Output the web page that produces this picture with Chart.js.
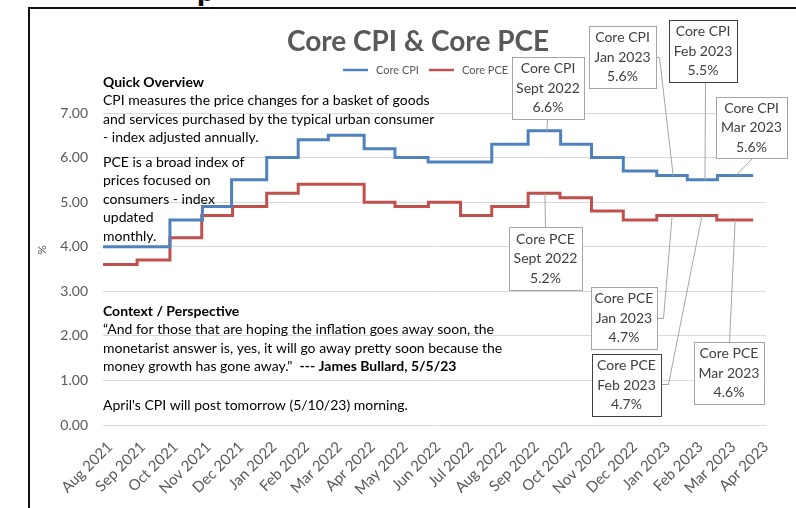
<!DOCTYPE html>
<html lang="en">
<head>
    <meta charset="UTF-8">
    <title>Core CPI & Core PCE</title>
    <script src="https://cdn.jsdelivr.net/npm/chart.js"></script>
    <style>
        html, body { margin: 0; padding: 0; background: #fff; }
        #wrap { position: relative; width: 796px; height: 508px; overflow: hidden; }
        #frame { position: absolute; left: 28px; top: 7px; width: 800px; height: 600px; border: 2px solid #111; box-sizing: border-box; }
        #head { position: absolute; left: 197px; top: -27px; font: 900 32px Lato, sans-serif; line-height: 32px; color: #111; }
        #chart { position: absolute; left: 0; top: 0; }
    </style>
</head>
<body>
<div id="wrap">
    <div id="head">p</div>
    <div id="frame"></div>
    <canvas id="chart" width="796" height="508"></canvas>
</div>
<script>
    const FONT = 'Lato, "Open Sans", sans-serif';

    // x axis: one unit per month, 0 = Aug 2021
    const months = ['Aug 2021', 'Sep 2021', 'Oct 2021', 'Nov 2021', 'Dec 2021', 'Jan 2022', 'Feb 2022',
        'Mar 2022', 'Apr 2022', 'May 2022', 'Jun 2022', 'Jul 2022', 'Aug 2022', 'Sep 2022', 'Oct 2022',
        'Nov 2022', 'Dec 2022', 'Jan 2023', 'Feb 2023', 'Mar 2023', 'Apr 2023'];
    const yTicks = [0, 1, 2, 3, 4, 5, 6, 7];

    // where each level starts (in months) and the level itself
    const cpiStepAt = [-0.12, 1.92, 2.91, 3.80, 4.87, 5.83, 6.75, 7.84, 8.78, 9.79, 11.73, 12.84, 13.83, 14.77, 15.74, 16.76, 17.69, 18.61, 19.70];
    const cpiValues = [4.0, 4.6, 4.9, 5.5, 6.0, 6.4, 6.5, 6.2, 6.0, 5.9, 6.3, 6.6, 6.3, 6.0, 5.7, 5.6, 5.5, 5.6, 5.6];
    const pceStepAt = [-0.12, 0.92, 1.92, 2.89, 3.83, 4.87, 5.83, 7.84, 8.78, 9.80, 10.78, 11.73, 12.84, 13.81, 14.77, 15.74, 16.76, 18.59, 19.70];
    const pceValues = [3.6, 3.7, 4.2, 4.7, 4.9, 5.2, 5.4, 5.0, 4.9, 5.0, 4.7, 4.9, 5.2, 5.1, 4.8, 4.6, 4.7, 4.6, 4.6];

    const chartTitle = 'Core CPI & Core PCE';
    const overview = [
        [['Quick Overview', true]],
        [['CPI measures the price changes for a basket of goods']],
        [['and services purchased by the typical urban consumer']],
        [['- index adjusted annually.']]
    ];
    const pceNote = [
        [['PCE is a broad index of']],
        [['prices focused on']],
        [['consumers - index']],
        [['updated']],
        [['monthly.']]
    ];
    const context = [
        [['Context / Perspective', true]],
        [['\u201CAnd for those that are hoping the inflation goes away soon, the']],
        [['monetarist answer is, yes, it will go away pretty soon because the']],
        [['money growth has gone away."  '], ['--- James Bullard, 5/5/23', true]]
    ];
    const footNote = [[["April's CPI will post tomorrow (5/10/23) morning."]]];

    const series = [
        { label: 'Core CPI', stepAt: cpiStepAt, values: cpiValues, color: '#4F81BD' },
        { label: 'Core PCE', stepAt: pceStepAt, values: pceValues, color: '#C0504D' }
    ];

    // callout boxes: series, month position they point at, box rect and where the leader leaves the box
    const callouts = [
        { s: 0, at: 13.41, month: 'Sept 2022', box: [512, 57, 72, 62], from: [547, 119] },
        { s: 0, at: 17.26, month: 'Jan 2023', box: [589, 26, 67, 62], from: [656, 57], via: [659, 57] },
        { s: 0, at: 18.23, month: 'Feb 2023', box: [669, 20, 68, 62], from: [705, 82], dark: true },
        { s: 0, at: 19.18, month: 'Mar 2023', box: [716, 97, 71, 61], from: [752, 158] },
        { s: 1, at: 13.35, month: 'Sept 2022', box: [509, 227, 73, 63], from: [545, 227] },
        { s: 1, at: 17.23, month: 'Jan 2023', box: [591, 287, 66, 62], from: [657, 318], via: [663, 318] },
        { s: 1, at: 18.14, month: 'Feb 2023', box: [592, 354, 69, 62], from: [661, 384], via: [668, 384], dark: true },
        { s: 1, at: 19.15, month: 'Mar 2023', box: [694, 342, 70, 62], from: [729, 342] }
    ];

    function valueAt(s, x) {
        let v = s.values[0];
        s.stepAt.forEach((at, i) => { if (at <= x) v = s.values[i]; });
        return v;
    }

    function drawLines(ctx, lines, x, y, gap) {
        lines.forEach((runs, i) => {
            let cx = x;
            runs.forEach(([text, bold]) => {
                ctx.font = (bold ? 'bold ' : '') + '14px ' + FONT;
                ctx.fillText(text, cx, y + i * gap);
                cx += ctx.measureText(text).width;
            });
        });
    }

    const annotations = {
        id: 'annotations',
        beforeDatasetsDraw(chart) {
            const ctx = chart.ctx;
            ctx.save();
            ctx.textBaseline = 'middle';

            // title
            ctx.fillStyle = '#595959';
            ctx.textAlign = 'center';
            ctx.font = 'bold 28px ' + FONT;
            ctx.fillText(chartTitle, 418, 42);

            // legend
            ctx.textAlign = 'left';
            ctx.font = '11px ' + FONT;
            let lx = 343;
            chart.data.datasets.forEach(ds => {
                ctx.strokeStyle = ds.borderColor;
                ctx.lineWidth = 2.5;
                ctx.beginPath();
                ctx.moveTo(lx, 70);
                ctx.lineTo(lx + 25, 70);
                ctx.stroke();
                ctx.fillStyle = '#595959';
                ctx.fillText(ds.label, lx + 33, 70);
                lx += 33 + ctx.measureText(ds.label).width + 10;
            });

            // y axis title
            ctx.save();
            ctx.translate(42, 250);
            ctx.rotate(-Math.PI / 2);
            ctx.textAlign = 'center';
            ctx.font = '12px ' + FONT;
            ctx.fillText('%', 0, 0);
            ctx.restore();

            // notes
            ctx.fillStyle = '#000';
            drawLines(ctx, overview, 103, 82, 18.5);
            drawLines(ctx, pceNote, 103, 162, 18.5);
            drawLines(ctx, context, 103, 311, 18.5);
            drawLines(ctx, footNote, 103, 405, 18.5);
            ctx.restore();
        },
        afterDatasetsDraw(chart) {
            const ctx = chart.ctx;
            const xs = chart.scales.x, ys = chart.scales.y;
            ctx.save();
            callouts.forEach(c => {
                const s = series[c.s];
                const v = valueAt(s, c.at);
                const ax = xs.getPixelForValue(c.at), ay = ys.getPixelForValue(v);
                ctx.strokeStyle = '#a6a6a6';
                ctx.lineWidth = 1;
                ctx.beginPath();
                ctx.moveTo(c.from[0] + 0.5, c.from[1] + 0.5);
                if (c.via) ctx.lineTo(c.via[0] + 0.5, c.via[1] + 0.5);
                ctx.lineTo(ax, ay);
                ctx.stroke();

                const [bx, by, bw, bh] = c.box;
                ctx.fillStyle = '#fff';
                ctx.fillRect(bx, by, bw, bh);
                ctx.strokeStyle = c.dark ? '#404040' : '#a6a6a6';
                ctx.strokeRect(bx + 0.5, by + 0.5, bw, bh);

                ctx.fillStyle = '#404040';
                ctx.font = '14px ' + FONT;
                ctx.textAlign = 'center';
                ctx.textBaseline = 'middle';
                const cx = bx + bw / 2, cy = by + bh / 2;
                [s.label, c.month, v.toFixed(1) + '%'].forEach((t, i) => {
                    ctx.fillText(t, cx, cy + (i - 1) * 19.5);
                });
            });
            ctx.restore();
        }
    };

    new Chart(document.getElementById('chart'), {
        type: 'line',
        data: {
            datasets: series.map(s => ({
                label: s.label,
                data: s.stepAt.map((x, i) => ({ x: x, y: s.values[i] })),
                borderColor: s.color,
                backgroundColor: s.color,
                borderWidth: 3,
                pointRadius: 0,
                stepped: 'before',
                fill: false
            }))
        },
        options: {
            responsive: false,
            animation: false,
            layout: { padding: { left: 30, right: 30, top: 113, bottom: 0 } },
            plugins: {
                legend: { display: false },
                title: { display: false },
                tooltip: { enabled: false }
            },
            scales: {
                x: {
                    type: 'linear',
                    min: -0.12,
                    max: 20.09,
                    afterBuildTicks: scale => { scale.ticks = months.map((m, i) => ({ value: i })); },
                    afterFit: scale => { scale.height = 83; },
                    ticks: {
                        autoSkip: false,
                        minRotation: 45,
                        maxRotation: 45,
                        padding: 5,
                        labelOffset: 3,
                        color: '#595959',
                        font: { family: FONT, size: 15 },
                        callback: v => months[v]
                    },
                    grid: { display: false },
                    border: { display: false }
                },
                y: {
                    min: 0,
                    max: 7,
                    afterBuildTicks: scale => { scale.ticks = yTicks.map(v => ({ value: v })); },
                    afterFit: scale => { scale.width = 73; },
                    ticks: {
                        padding: 15,
                        color: '#595959',
                        font: { family: FONT, size: 14 },
                        callback: v => v.toFixed(2)
                    },
                    grid: { color: '#d9d9d9', drawTicks: false },
                    border: { display: false }
                }
            }
        },
        plugins: [annotations]
    });
</script>
</body>
</html>
